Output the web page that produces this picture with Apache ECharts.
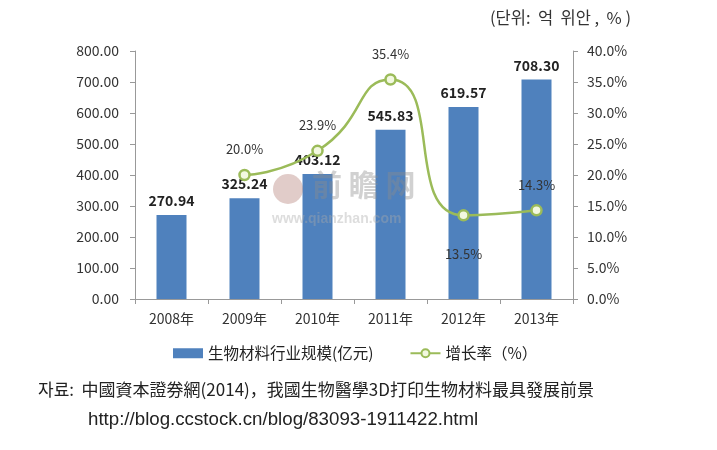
<!DOCTYPE html>
<html><head><meta charset="utf-8">
<script src="https://cdn.jsdelivr.net/npm/echarts@6/dist/echarts.min.js"></script>
<style>html,body{margin:0;padding:0;background:#fff}#c{width:717px;height:450px}</style>
</head><body><div id="c"></div>
<script>
var categories = ['2008年','2009年','2010年','2011年','2012年','2013年'];
var scaleValues = [270.94, 325.24, 403.12, 545.83, 619.57, 708.30];
var growthValues = [null, 20.0, 23.9, 35.4, 13.5, 14.3];
var leftTicks = [0, 100, 200, 300, 400, 500, 600, 700, 800];
var rightTicks = [0, 5, 10, 15, 20, 25, 30, 35, 40];
var barName = '生物材料行业规模(亿元)';
var lineName = '增长率（%）';
var unitText = '(단위:  억  위안 ,  % )';
var sourceLine1 = '자료:  中國資本證券網(2014)，我國生物醫學3D打印生物材料最具發展前景';
var sourceLine2 = 'http://blog.ccstock.cn/blog/83093-1911422.html';

var FONT = '"Noto Sans CJK SC","Noto Sans",sans-serif';
var chart = echarts.init(document.getElementById('c'));
chart.setOption({
  backgroundColor: '#fff',
  animation: false,
  textStyle: {fontFamily: FONT},
  grid: {left: 135, right: 144, top: 51, bottom: 151},
  graphic: [
    {type: 'text', left: 490, top: 9, style: {text: unitText, font: '16.5px "Noto Sans CJK KR",sans-serif', fill: '#333'}},
    {type: 'text', left: 38, top: 381, style: {text: sourceLine1, font: '17px "Noto Sans CJK KR","Noto Sans CJK TC",sans-serif', fill: '#222'}},
    {type: 'text', left: 88, top: 410, style: {text: sourceLine2, font: '18.7px "Liberation Sans",sans-serif', fill: '#222'}},
    {type: 'circle', shape: {cx: 288, cy: 189, r: 15}, z: 10, style: {fill: 'rgba(170,110,100,0.35)'}},
    {type: 'text', left: 312, top: 170, z: 10, style: {text: '前 瞻 网', font: 'bold 30px "Noto Sans CJK SC",sans-serif', fill: 'rgba(140,140,140,0.4)'}},
    {type: 'text', left: 272, top: 212, z: 10, style: {text: 'www.qianzhan.com', font: 'bold 14px "Liberation Sans",sans-serif', fill: 'rgba(170,170,170,0.4)'}}
  ],
  legend: {
    bottom: 84, left: 168,
    itemGap: 36, itemWidth: 30, itemHeight: 10,
    textStyle: {fontSize: 15.5, color: '#222', fontFamily: FONT},
    data: [
      {name: barName, icon: 'rect'},
      {name: lineName}
    ]
  },
  xAxis: {
    type: 'category', data: categories,
    axisLine: {lineStyle: {color: '#999'}},
    axisTick: {show: true, alignWithLabel: false, lineStyle: {color: '#999'}, length: 5},
    axisLabel: {color: '#333', fontSize: 14, margin: 13}
  },
  yAxis: [
    {
      type: 'value', min: 0, max: 800, interval: 100,
      axisLine: {show: true, lineStyle: {color: '#999'}},
      axisTick: {show: true, lineStyle: {color: '#999'}, length: 5},
      splitLine: {show: false},
      axisLabel: {color: '#333', fontSize: 14, margin: 16, formatter: function (v) { return v.toFixed(2); }}
    },
    {
      type: 'value', min: 0, max: 40, interval: 5,
      axisLine: {show: true, lineStyle: {color: '#999'}},
      axisTick: {show: true, lineStyle: {color: '#999'}, length: 5},
      splitLine: {show: false},
      axisLabel: {color: '#333', fontSize: 14, margin: 14, formatter: function (v) { return v.toFixed(1) + '%'; }}
    }
  ],
  series: [
    {
      name: barName, type: 'bar', data: scaleValues, barWidth: 30, z: 2,
      itemStyle: {color: '#4F81BD'},
      label: {show: true, position: 'top', distance: 7, fontWeight: 'bold', fontSize: 14, color: '#222', formatter: function (p) { return p.value.toFixed(2); }}
    },
    {
      name: lineName, type: 'line', yAxisIndex: 1, smooth: 0.6, connectNulls: false, z: 3,
      data: growthValues.map(function (v, i) {
        return i === 4 ? {value: v, label: {position: 'bottom', distance: 26}} : v;
      }),
      symbol: 'circle', symbolSize: 10,
      lineStyle: {color: '#9BBB59', width: 2.5},
      itemStyle: {color: '#F2F8E0', borderColor: '#9BBB59', borderWidth: 2.5},
      label: {show: true, position: 'top', distance: 13, fontSize: 13, color: '#333', formatter: function (p) { return p.value.toFixed(1) + '%'; }}
    }
  ]
});
</script></body></html>
